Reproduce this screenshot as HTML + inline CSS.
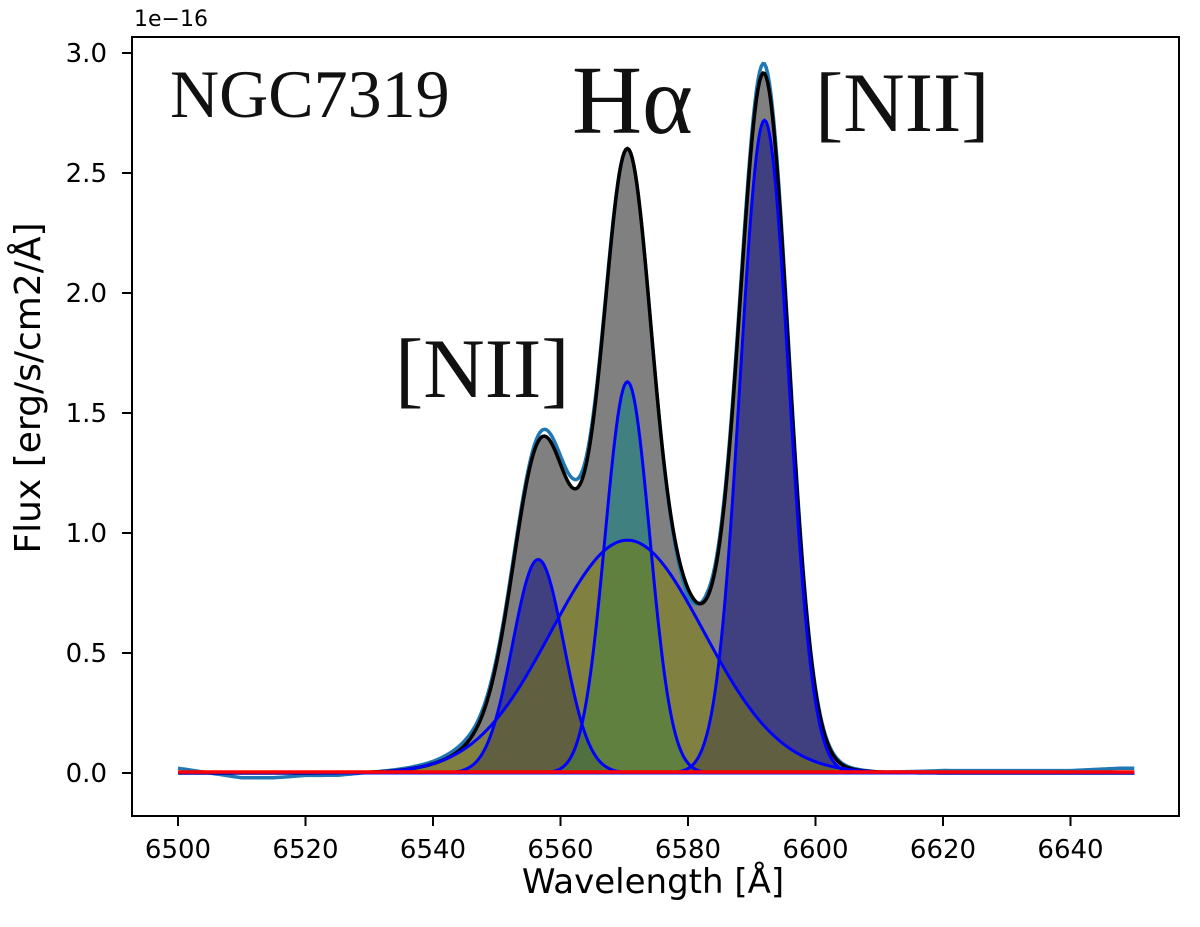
<!DOCTYPE html>
<html><head><meta charset="utf-8"><style>
html,body{margin:0;padding:0;background:#fff;}
svg{display:block;}
</style></head><body>
<svg id="chart" width="1200" height="927" xmlns="http://www.w3.org/2000/svg" font-family="'DejaVu Sans','Liberation Sans',sans-serif">
<g id="fills"></g>
<g id="lines"></g>
<rect x="132" y="37" width="1047" height="779" fill="none" stroke="#000" stroke-width="2"/>
<g id="axes"></g>
<text x="134" y="26" font-size="22">1e−16</text>
<text x="653" y="893" font-size="34" text-anchor="middle">Wavelength [Å]</text>
<text transform="translate(40,388) rotate(-90)" font-size="36" text-anchor="middle">Flux [erg/s/cm2/Å]</text>
<g font-family="'Liberation Serif',serif" fill="#111">
<text x="170" y="117" font-size="68">NGC7319</text>
<text x="572" y="133" font-size="97">Hα</text>
<text x="815" y="131" font-size="85">[NII]</text>
<text x="395" y="397" font-size="85">[NII]</text>
</g>
</svg>
<script>
const xTicks=[6500,6520,6540,6560,6580,6600,6620,6640];
const yTicks=[0.0,0.5,1.0,1.5,2.0,2.5,3.0];
const compNames=['nii-6548','halpha-narrow','halpha-broad','nii-6583'];
const compCenters=[6556.5,6570.5,6570.5,6592.0];
const compAmps=[0.89,1.63,0.97,2.72];
const compSigmas=[4.0,3.5,12.0,3.8];
const compFills=['rgba(0,0,128,0.5)','rgba(0,128,128,0.5)','rgba(128,128,0,0.5)','rgba(0,0,128,0.5)'];
const residWave=[6500,6505,6510,6515,6520,6525,6530,6540,6545,6550,6555,6558,6562,6566,6570,6575,6580,6583,6588,6592,6596,6600,6610,6620,6625,6630,6640,6648,6650];
const residFlux=[0.02,0.0,-0.02,-0.02,-0.01,-0.01,0.0,0.01,0.02,0.02,0.02,0.03,0.04,0.02,0.0,0.0,-0.03,0.02,0.03,0.04,0.02,0.01,0.0,0.01,0.01,0.01,0.01,0.02,0.02];
const W0=6500,W1=6650;
const NS='http://www.w3.org/2000/svg';
function xs(w){return 178+(w-6500)*6.375;}
function ys(v){return 773-v*240;}
function gauss(i,w){return compAmps[i]*Math.exp(-Math.pow(w-compCenters[i],2)/(2*compSigmas[i]*compSigmas[i]));}
function total(w){let s=0;for(let i=0;i<compAmps.length;i++)s+=gauss(i,w);return s;}
function resid(w){for(let k=0;k<residWave.length-1;k++){if(w>=residWave[k]&&w<=residWave[k+1]){const t=(w-residWave[k])/(residWave[k+1]-residWave[k]);return residFlux[k]*(1-t)+residFlux[k+1]*t;}}return 0;}
const grid=[];for(let w=W0;w<=W1+1e-9;w+=0.25)grid.push(w);
function pathOf(f){return grid.map((w,j)=>(j?'L':'M')+xs(w).toFixed(2)+' '+ys(f(w)).toFixed(2)).join(' ');}
function areaOf(f){return pathOf(f)+' L'+xs(W1)+' '+ys(0)+' L'+xs(W0)+' '+ys(0)+' Z';}
function mk(tag,attrs,parent){const e=document.createElementNS(NS,tag);for(const k in attrs)e.setAttribute(k,attrs[k]);parent.appendChild(e);return e;}
const fills=document.getElementById('fills'),lines=document.getElementById('lines'),axes=document.getElementById('axes');
let e=mk('path',{d:areaOf(total),fill:'#808080'},fills);


[0,1,3,2].forEach(i=>{
  const p=mk('path',{d:areaOf(w=>gauss(i,w)),fill:compFills[i]},fills);
  
  
});
e=mk('path',{d:pathOf(w=>total(w)+resid(w)),fill:'none',stroke:'#1f77b4','stroke-width':3.5},lines);


e=mk('path',{d:pathOf(total),fill:'none',stroke:'#000','stroke-width':3.5},lines);


for(let i=0;i<compAmps.length;i++){
  const p=mk('path',{d:pathOf(w=>gauss(i,w)),fill:'none',stroke:'#0000ff','stroke-width':3},lines);
  
  
}
e=mk('line',{x1:xs(W0),x2:xs(W1),y1:ys(0)-1,y2:ys(0)-1,stroke:'#ff0000','stroke-width':3.5},lines);


xTicks.forEach(t=>{
  const g=mk('g',{},axes);
  
  
  mk('line',{x1:xs(t),x2:xs(t),y1:816,y2:826,stroke:'#000','stroke-width':2},g);
  const tx=mk('text',{x:xs(t),y:858,'font-size':26,'text-anchor':'middle'},g);tx.textContent=t;
});
yTicks.forEach(t=>{
  const g=mk('g',{},axes);
  
  
  mk('line',{x1:122,x2:132,y1:ys(t),y2:ys(t),stroke:'#000','stroke-width':2},g);
  const tx=mk('text',{x:107,y:ys(t)+9,'font-size':26,'text-anchor':'end'},g);tx.textContent=t.toFixed(1);
});
</script>
</body></html>
